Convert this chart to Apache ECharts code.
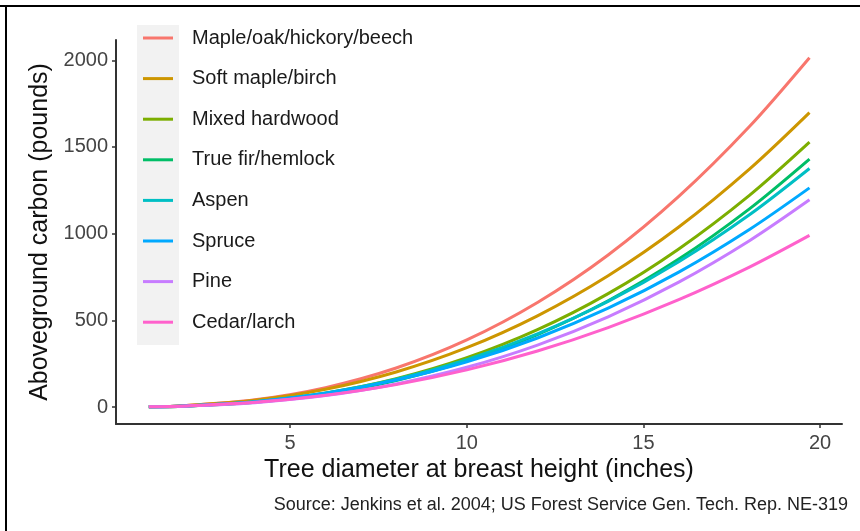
<!DOCTYPE html>
<html>
<head>
<meta charset="utf-8">
<title>Aboveground carbon by tree diameter</title>
<script src="https://cdn.jsdelivr.net/npm/echarts@6/dist/echarts.min.js"></script>
<style>
  html, body { margin: 0; padding: 0; background: #fff; }
  #chart { width: 860px; height: 531px; }
</style>
</head>
<body>
<div id="chart"></div>
<script>
// tree diameter (inches)
const diameters = [1, 2, 4, 6, 8, 10, 12, 14, 16, 18, 19.7]

// aboveground carbon (pounds)
const mapleOak = [1, 8, 42, 112, 225, 387, 603, 877, 1215, 1618, 2015]
const softMaple = [1, 8, 39, 102, 202, 342, 526, 757, 1038, 1372, 1698]
const mixedHardwood = [1, 5, 29, 80, 163, 284, 446, 654, 912, 1221, 1528]
const trueFir = [1, 5, 27, 75, 153, 266, 418, 613, 853, 1143, 1430]
const aspen = [1, 6, 31, 81, 160, 273, 422, 609, 838, 1109, 1376]
const spruce = [1, 6, 31, 79, 155, 260, 398, 570, 778, 1024, 1264]
const pine = [1, 5, 25, 66, 133, 229, 357, 520, 720, 959, 1195]
const cedarLarch = [1, 6, 27, 68, 129, 214, 323, 458, 619, 807, 990]

const groupNames = ['Maple/oak/hickory/beech', 'Soft maple/birch', 'Mixed hardwood', 'True fir/hemlock', 'Aspen', 'Spruce', 'Pine', 'Cedar/larch']
const groupValues = [mapleOak, softMaple, mixedHardwood, trueFir, aspen, spruce, pine, cedarLarch]

const xTicks = [5, 10, 15, 20]
const yTicks = [0, 500, 1000, 1500, 2000]

// ggplot hue palette
const colors = ['#F8766D', '#CD9600', '#7CAE00', '#00BE67', '#00BFC4', '#00A9FF', '#C77CFF', '#FF61CC']

const myChart = echarts.init(document.getElementById('chart'))

let series = []
for (let i = 0; i < groupNames.length; i++) {
  series.push({
    name: groupNames[i],
    type: 'line',
    data: diameters.map((d, k) => [d, groupValues[i][k]]),
    smooth: 0.3,
    symbol: 'none',
    lineStyle: { width: 3, color: colors[i] },
    itemStyle: { color: colors[i] }
  })
}

const axisText = { color: '#444', fontSize: 20, fontFamily: 'Liberation Sans' }

let option = {
  animation: false,
  backgroundColor: '#ffffff',
  color: colors,
  grid: {
    left: 116,
    right: 18,
    top: 40,
    bottom: 107
  },
  legend: {
    orient: 'vertical',
    left: 143,
    top: 26,
    padding: 0,
    icon: 'rect',
    itemWidth: 30,
    itemHeight: 3,
    itemGap: 16.6,
    textStyle: { color: '#1a1a1a', fontSize: 20, lineHeight: 24, padding: [0, 0, 0, 14], fontFamily: 'Liberation Sans' },
    data: groupNames
  },
  xAxis: {
    type: 'value',
    min: 0.07,
    max: 20.62,
    name: 'Tree diameter at breast height (inches)',
    nameLocation: 'middle',
    nameGap: 32,
    nameTextStyle: { color: '#111', fontSize: 25, fontFamily: 'Liberation Sans' },
    axisLine: { show: true, onZero: false, lineStyle: { color: '#333', width: 2 } },
    axisTick: { show: true, customValues: xTicks, length: 4, lineStyle: { color: '#333', width: 1.5 } },
    axisLabel: Object.assign({ customValues: xTicks, margin: 9 }, axisText),
    splitLine: { show: false }
  },
  yAxis: {
    type: 'value',
    min: -98,
    max: 2117,
    name: 'Aboveground carbon (pounds)',
    nameLocation: 'middle',
    nameRotate: 90,
    nameGap: 62,
    nameTextStyle: { color: '#111', fontSize: 25, fontFamily: 'Liberation Sans' },
    axisLine: { show: true, onZero: false, lineStyle: { color: '#333', width: 2 } },
    axisTick: { show: true, customValues: yTicks, length: 4, lineStyle: { color: '#333', width: 1.5 } },
    axisLabel: Object.assign({ customValues: yTicks, margin: 8, formatter: (v) => String(v) }, axisText),
    splitLine: { show: false }
  },
  graphic: [
    // gray legend key column
    { type: 'rect', left: 137, top: 25, z: 0, shape: { width: 42, height: 320 }, style: { fill: '#F2F2F2' } },
    // picture frame, top and left
    { type: 'line', z: 10, shape: { x1: 0, y1: 6, x2: 860, y2: 6 }, style: { stroke: '#000', lineWidth: 2 } },
    { type: 'line', z: 10, shape: { x1: 6, y1: 6, x2: 6, y2: 531 }, style: { stroke: '#000', lineWidth: 2 } },
    {
      type: 'text',
      right: 12,
      top: 496,
      style: {
        text: 'Source: Jenkins et al. 2004; US Forest Service Gen. Tech. Rep. NE-319',
        fill: '#222',
        fontSize: 18,
        fontFamily: 'Liberation Sans'
      }
    }
  ],
  series: series
}

myChart.setOption(option)
</script>
</body>
</html>
